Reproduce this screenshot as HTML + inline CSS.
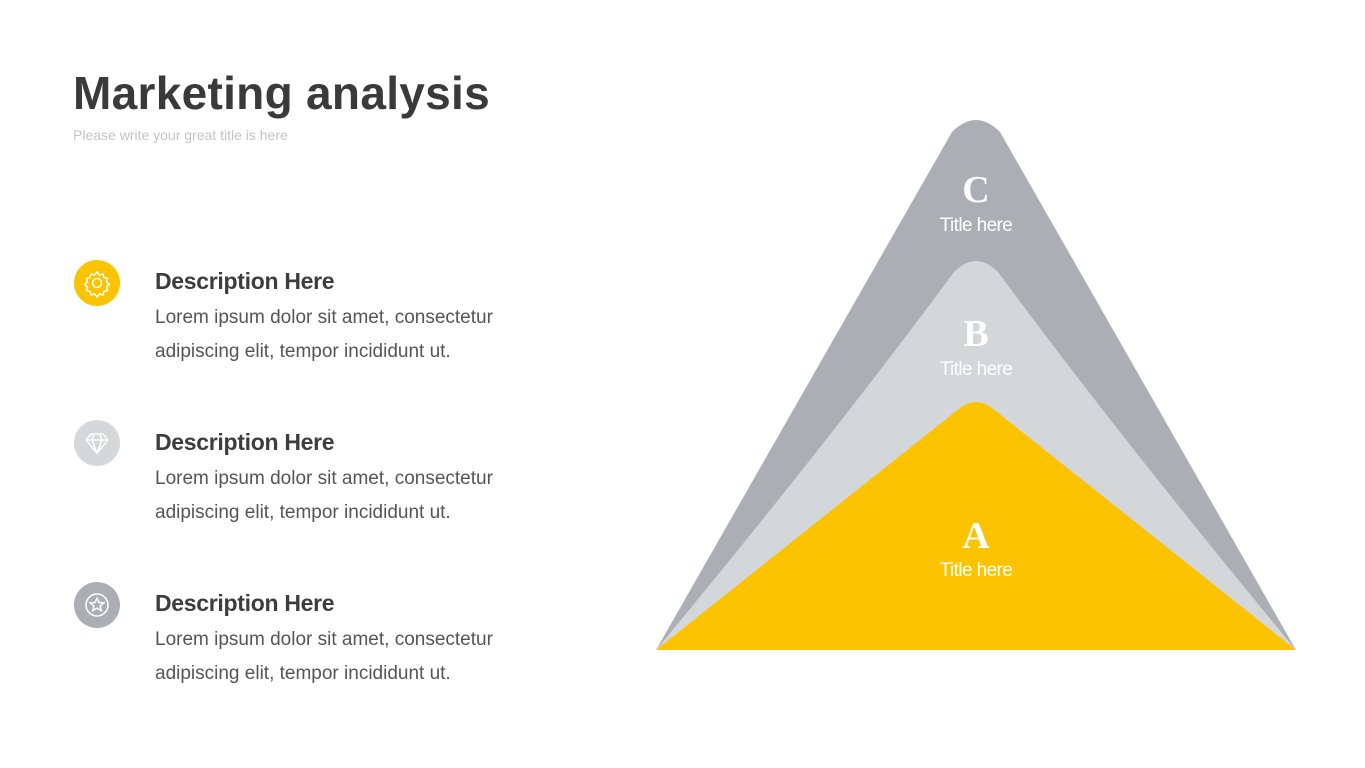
<!DOCTYPE html>
<html><head><meta charset="utf-8"><style>
body{margin:0;width:1365px;height:768px;background:#fff;position:relative;overflow:hidden;font-family:"Liberation Sans",sans-serif}
.t{position:absolute;white-space:nowrap}
h1{position:absolute;left:73px;top:66px;margin:0;font-size:46px;font-weight:bold;color:#3a3a3a;letter-spacing:0.3px}
.sub{left:73px;top:127px;font-size:14px;color:#c4c4c4}
.h{left:155px;font-size:23px;font-weight:bold;color:#3d3d3d;letter-spacing:-0.3px}
.b{left:155px;font-size:19px;color:#555;line-height:34px;letter-spacing:0px}
.c{position:absolute;left:74px;width:46px;height:46px;border-radius:50%}
</style></head><body>
<h1>Marketing analysis</h1>
<div class="t sub">Please write your great title is here</div>

<div class="c" style="top:260px;background:#fcc400"><svg width="46" height="46" viewBox="0 0 46 46"><g fill="none" stroke="#fff" stroke-width="1.5"><circle cx="23" cy="23" r="4.5"/><path d="M23 12 l2.5 3 3.5-1 1 3.5 3.5 1-1 3.5 3 2.5-3 2.5 1 3.5-3.5 1-1 3.5-3.5-1-2.5 3-2.5-3-3.5 1-1-3.5-3.5-1 1-3.5-3-2.5 3-2.5-1-3.5 3.5-1 1-3.5 3.5 1z"/></g></svg></div>
<div class="t h" style="top:268px">Description Here</div>
<div class="t b" style="top:301px">Lorem ipsum dolor sit amet, consectetur<br>adipiscing elit, tempor incididunt ut.</div>

<div class="c" style="top:420px;background:#d5d8db"><svg width="46" height="46" viewBox="0 0 46 46"><g fill="none" stroke="#fff" stroke-width="1.5"><path d="M17 14h12l5 6-11 13-11-13z M12 20h22 M20 14l-2 6 5 13 5-13-2-6"/></g></svg></div>
<div class="t h" style="top:429px">Description Here</div>
<div class="t b" style="top:462px">Lorem ipsum dolor sit amet, consectetur<br>adipiscing elit, tempor incididunt ut.</div>

<div class="c" style="top:582px;background:#abafb4"><svg width="46" height="46" viewBox="0 0 46 46"><g fill="none" stroke="#fff" stroke-width="1.5"><circle cx="23" cy="23" r="11"/><path d="M23 16l2 4.5 4.8.4-3.7 3.1 1.2 4.7-4.3-2.6-4.3 2.6 1.2-4.7-3.7-3.1 4.8-.4z"/></g></svg></div>
<div class="t h" style="top:590px">Description Here</div>
<div class="t b" style="top:623px">Lorem ipsum dolor sit amet, consectetur<br>adipiscing elit, tempor incididunt ut.</div>

<svg style="position:absolute;left:0;top:0" width="1365" height="768">
<path d="M656,650 L952,132 Q976,108 1000,132 L1296,650 Z" fill="#abafb4"/>
<path d="M656,650 Q830,440 954,272 Q976,250 998,272 Q1122,440 1296,650 Z" fill="#d4d7da"/>
<path d="M656,650 L960,408 Q976,396 992,408 L1296,650 Z" fill="#fcc400"/>
<g fill="#fff" text-anchor="middle">
<text x="976" y="202" font-family="Liberation Serif,serif" font-weight="bold" font-size="38">C</text>
<text x="976" y="231" font-family="Liberation Sans Narrow,Liberation Sans,sans-serif" font-size="19" letter-spacing="-0.6">Title here</text>
<text x="976" y="346" font-family="Liberation Serif,serif" font-weight="bold" font-size="38">B</text>
<text x="976" y="375" font-family="Liberation Sans Narrow,Liberation Sans,sans-serif" font-size="19" letter-spacing="-0.6">Title here</text>
<text x="976" y="548" font-family="Liberation Serif,serif" font-weight="bold" font-size="38">A</text>
<text x="976" y="576" font-family="Liberation Sans Narrow,Liberation Sans,sans-serif" font-size="19" letter-spacing="-0.6">Title here</text>
</g>
</svg>
</body></html>
